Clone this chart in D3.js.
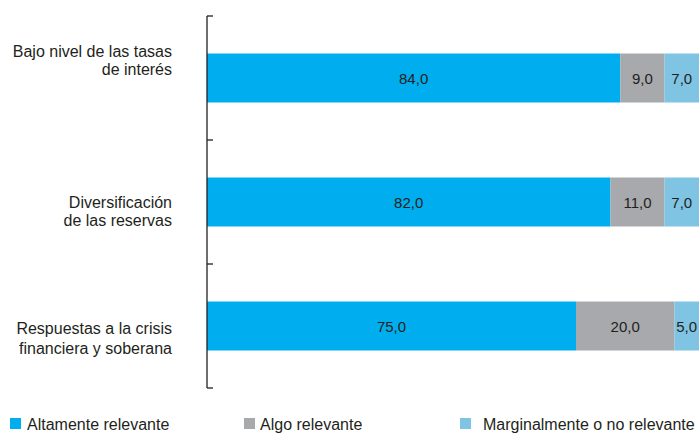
<!DOCTYPE html>
<html>
<head>
<meta charset="utf-8">
<script src="https://cdn.jsdelivr.net/npm/d3@7"></script>
<style>
  html, body { margin: 0; padding: 0; background: #fff; }
  svg { display: block; }
  text { font-family: "Liberation Sans", Arial, Helvetica, sans-serif; fill: #231f20; }
</style>
</head>
<body>
<svg id="chart" width="700" height="433"></svg>
<script>
// Categories (each label split into its printed lines)
const categories = ["Bajo nivel de las tasas de interés", "Diversificación de las reservas", "Respuestas a la crisis financiera y soberana"];
const categoryLines = [
  ["Bajo nivel de las tasas", "de interés"],
  ["Diversificación", "de las reservas"],
  ["Respuestas a la crisis", "financiera y soberana"]
];
// Series (percent of responses)
const seriesNames = ["Altamente relevante", "Algo relevante", "Marginalmente o no relevante"];
const altamente = [84.0, 82.0, 75.0];
const algo = [9.0, 11.0, 20.0];
const marginal = [7.0, 7.0, 5.0];

const colors = ["#00aeef", "#a7a9ac", "#7fc4e3"];

const svg = d3.select("#chart");

const x = d3.scaleLinear().domain([0, 100]).range([207, 699]);
const y = d3.scaleBand().domain(categories).range([16, 388]).padding(0);
const barH = 49;

const rows = categories.map((c, i) => ({ cat: c, vals: [altamente[i], algo[i], marginal[i]] }));
const stack = d3.stack().keys([0, 1, 2]).value((d, k) => d.vals[k]);
const layers = stack(rows);

const fmt = v => d3.format(".1f")(v).replace(".", ",");

layers.forEach((layer, k) => {
  const g = svg.append("g");
  g.selectAll("rect").data(layer).join("rect")
    .attr("x", d => x(d[0]))
    .attr("width", d => x(d[1]) - x(d[0]))
    .attr("y", d => y(d.data.cat) + y.bandwidth() / 2 - barH / 2)
    .attr("height", barH)
    .attr("fill", colors[k]);
  g.selectAll("text").data(layer).join("text")
    .attr("x", d => (x(d[0]) + x(d[1])) / 2)
    .attr("y", d => y(d.data.cat) + y.bandwidth() / 2 + 6)
    .attr("text-anchor", "middle")
    .style("font-size", "15px")
    .text(d => fmt(d[1] - d[0]));
});

// Category axis: vertical line with ticks at slot boundaries
const axis = svg.append("g").attr("stroke", "#231f20").attr("stroke-width", 1.3).attr("fill", "none");
axis.append("line").attr("x1", 207).attr("x2", 207).attr("y1", y.range()[0]).attr("y2", y.range()[1]);
const bounds = categories.map(c => y(c)).concat([y.range()[1]]);
axis.selectAll("line.tick").data(bounds).join("line").attr("class", "tick")
  .attr("x1", 207).attr("x2", 213).attr("y1", d => d).attr("y2", d => d);

// Category labels (right-aligned, first-baseline offset from bar centre and line gap)
const labelLayout = [[-21, 18], [5.5, 18], [8, 20]];
categories.forEach((c, i) => {
  const cy = y(c) + y.bandwidth() / 2;
  const t = svg.append("text").attr("text-anchor", "end").style("font-size", "16px");
  categoryLines[i].forEach((line, j) => {
    t.append("tspan").attr("x", 172).attr("y", cy + labelLayout[i][0] + j * labelLayout[i][1]).text(line);
  });
});

// Legend
const legendX = [10, 244, 460];
const legendTextX = [27, 260, 483];
seriesNames.forEach((name, k) => {
  svg.append("rect").attr("x", legendX[k]).attr("y", 418).attr("width", 11).attr("height", 11).attr("fill", colors[k]);
  svg.append("text").attr("x", legendTextX[k]).attr("y", 430).style("font-size", "16px").text(name);
});
</script>
</body>
</html>
